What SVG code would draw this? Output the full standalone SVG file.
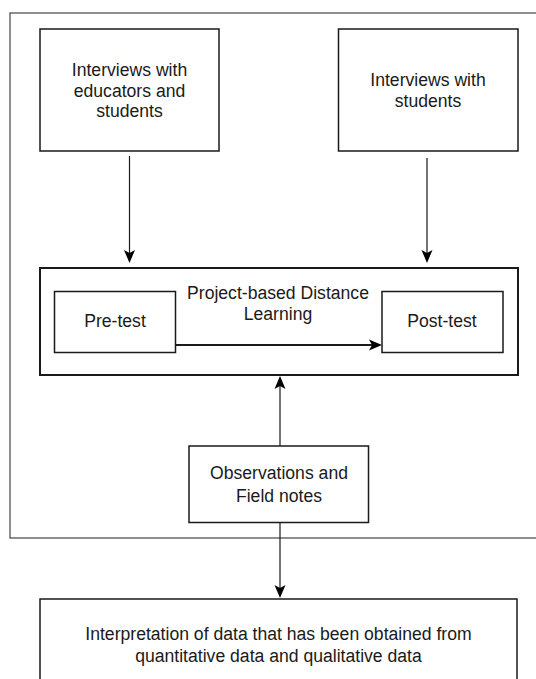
<svg xmlns="http://www.w3.org/2000/svg" width="536" height="679" viewBox="0 0 536 679">
<defs>
<style>
.box{fill:#fff;stroke:#1a1a1a;stroke-width:1.5}
.frame{fill:none;stroke:#444;stroke-width:1.2}
.t{font-family:"Liberation Sans",Arial,sans-serif;font-size:17.6px;fill:#1a1a1a;text-anchor:middle}
.c{fill:none;stroke:#1a1a1a;stroke-width:1.2}
.ah{fill:#000;stroke:none}
</style>
</defs>
<rect class="frame" x="10" y="13" width="540" height="525"/>
<g id="n-interviews-educators">
<rect class="box" x="40" y="29" width="179" height="122"/>
<text class="t"><tspan x="129.5" y="76">Interviews with</tspan><tspan x="129.5" y="96.5">educators and</tspan><tspan x="129.5" y="117">students</tspan></text>
</g>
<g id="n-interviews-students">
<rect class="box" x="338.5" y="29" width="179.5" height="122"/>
<text class="t"><tspan x="428" y="86">Interviews with</tspan><tspan x="428" y="107">students</tspan></text>
</g>
<g id="n-pbdl">
<rect class="box" x="40" y="268" width="478" height="107" style="stroke-width:2"/>
<text class="t"><tspan x="278" y="298.5">Project-based Distance</tspan><tspan x="278" y="320">Learning</tspan></text>
</g>
<g id="n-pretest">
<rect class="box" x="54.5" y="291.5" width="121" height="61"/>
<text class="t" x="115" y="326.5">Pre-test</text>
</g>
<g id="n-posttest">
<rect class="box" x="382" y="291.5" width="121" height="61"/>
<text class="t" x="442" y="326.5">Post-test</text>
</g>
<g id="n-observations">
<rect class="box" x="189" y="446" width="179.5" height="76.5"/>
<text class="t"><tspan x="279" y="479">Observations and</tspan><tspan x="279" y="502">Field notes</tspan></text>
</g>
<g id="n-interpretation">
<rect class="box" x="40" y="599" width="477" height="100"/>
<text class="t"><tspan x="278.5" y="640">Interpretation of data that has been obtained from</tspan><tspan x="278.5" y="662">quantitative data and qualitative data</tspan></text>
</g>
<g id="connectors">
<line class="c" x1="129.5" y1="156" x2="129.5" y2="254"/>
<path class="ah" d="M129.5 263 L124 250 L129.5 253 L135 250 Z"/>
<line class="c" x1="427" y1="158" x2="427" y2="254"/>
<path class="ah" d="M427 263 L421.5 250 L427 253 L432.5 250 Z"/>
<line class="c" x1="175.5" y1="345" x2="373" y2="345" style="stroke-width:2"/>
<path class="ah" d="M382 345 L369 339.5 L372 345 L369 350.5 Z"/>
<line class="c" x1="280" y1="446" x2="280" y2="386"/>
<path class="ah" d="M280 376 L274.5 389 L280 386 L285.5 389 Z"/>
<line class="c" x1="280" y1="522.5" x2="280" y2="589"/>
<path class="ah" d="M280 598 L274.5 585 L280 588 L285.5 585 Z"/>
</g>
</svg>
